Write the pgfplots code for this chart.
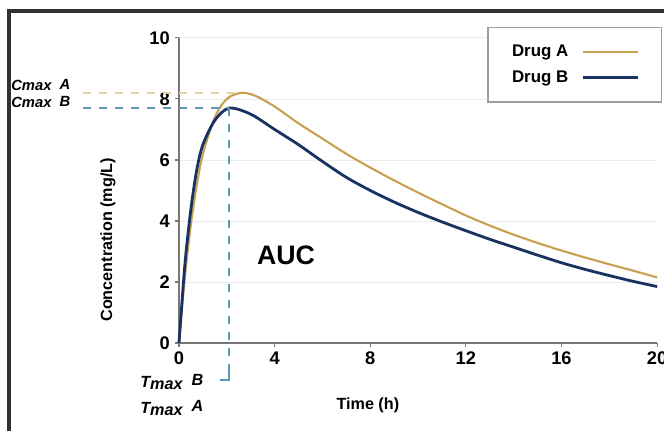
\documentclass[border=0pt]{standalone}
\usepackage{pgfplots}
\pgfplotsset{compat=1.18}
\usepackage{fontspec}
\setmainfont{Liberation Sans}
\definecolor{goldA}{RGB}{201,160,82}
\definecolor{navyB}{RGB}{24,50,98}
\definecolor{dashB}{RGB}{95,152,182}
\definecolor{dashA}{RGB}{226,208,170}
\definecolor{axgray}{RGB}{120,120,120}
\definecolor{framec}{RGB}{50,50,50}
\begin{document}
\begin{tikzpicture}
\begin{axis}[
  at={(0,0)}, anchor=south west,
  scale only axis, width=11.95cm, height=7.625cm,
  xmin=0, xmax=20, ymin=0, ymax=10,
  axis x line*=bottom, axis y line*=left,
  xtick={0,4,...,20}, ytick={0,2,...,10},
  ymajorgrids, grid style={black!8, line width=0.6pt},
  axis line style={axgray, line width=1.1pt},
  tick style={axgray, line width=0.8pt}, major tick length=3pt,
  tick align=outside,
  ticklabel style={font=\fontsize{13}{15}\selectfont\bfseries},
  /pgf/number format/assume math mode=true,
  xlabel={Time (h)}, ylabel={Concentration (mg/L)},
  xlabel style={at={(axis description cs:0.395,-0.203)}, anchor=center, font=\fontsize{11.5}{13}\selectfont\bfseries},
  ylabel style={at={(axis description cs:-0.1485,0.338)}, anchor=center, font=\fontsize{11.5}{13}\selectfont\bfseries},
  clip=false,
  legend plot pos=right,
  legend cell align=left,
  legend image code/.code={\draw[#1] (0cm,0cm) -- (1.375cm,0cm);},
  legend style={at={(1.0105,1.036)}, anchor=north east, draw={rgb,255:red,165;green,155;blue,155}, line width=1pt,
    font=\fontsize{12}{14}\selectfont\bfseries, inner xsep=0.55cm, inner ysep=0.38cm, row sep=0.2cm,
    nodes={inner sep=1.5pt}},
]
\addplot[goldA, line width=1.5pt, smooth] coordinates {
(0,0) (0.25,2.2) (0.5,3.9) (0.75,5.2) (1,6.2) (1.5,7.4) (2,8.0) (2.6,8.2) (3.2,8.1) (4,7.75) (5,7.2) (6,6.7) (7,6.2) (8,5.75) (9,5.33) (10,4.93) (11,4.55) (12,4.18) (13,3.85) (14,3.55) (15,3.28) (16,3.03) (17,2.8) (18,2.58) (19,2.37) (20,2.15)};
\addlegendentry{Drug A\rule{0.28cm}{0pt}}
\addplot[navyB, line width=2pt, smooth] coordinates {
(0,0) (0.25,2.6) (0.5,4.4) (0.75,5.7) (1,6.5) (1.5,7.3) (2.1,7.7) (3,7.5) (4,7.0) (5,6.5) (6,5.95) (7,5.43) (8,5.0) (9,4.62) (10,4.28) (11,3.97) (12,3.68) (13,3.4) (14,3.14) (15,2.88) (16,2.63) (17,2.41) (18,2.21) (19,2.02) (20,1.85)};
\addlegendentry{Drug B\rule{0.28cm}{0pt}}
\draw[dashA, line width=1.2pt, dash pattern=on 0.2cm off 0.2cm] (axis cs:-4.0,8.2) -- (axis cs:2.5,8.2);
\draw[dashB, line width=1.2pt, dash pattern=on 0.2cm off 0.2cm] (axis cs:-4.0,7.7) -- (axis cs:2.1,7.7);
\draw[dashB, line width=1.4pt, dash pattern=on 0.2cm off 0.2cm] (axis cs:2.1,7.7) -- (axis cs:2.1,-1.05);
\draw[dashB, line width=1.2pt] (axis cs:2.1,-0.95) -- (axis cs:2.1,-1.21) -- (axis cs:1.72,-1.21);
\end{axis}
\begin{scope}[x=0.025cm,y=0.025cm]
% frame
\draw[framec, line width=2.2pt] (9-179,343-431) -- (9-179,343-11) -- (664-179,343-11);
% AUC
\node[font=\fontsize{19}{22}\selectfont\bfseries] at (286-179,343-255) {AUC};
% Cmax labels
\node[anchor=base west, inner sep=0, font=\fontsize{10.5}{12}\selectfont\bfseries\itshape] at (11-179,343-91) {Cmax\ \ \raisebox{1pt}{A}};
\node[anchor=base west, inner sep=0, font=\fontsize{10.5}{12}\selectfont\bfseries\itshape] at (11-179,343-108) {Cmax\ \ \raisebox{1pt}{B}};
% Tmax labels
\node[anchor=base west, inner sep=0, font=\fontsize{11.5}{13}\selectfont\bfseries\itshape] at (140-179,343-388) {T\raisebox{-1pt}{max}\ \ \raisebox{1.5pt}{B}};
\node[anchor=base west, inner sep=0, font=\fontsize{11.5}{13}\selectfont\bfseries\itshape] at (140-179,343-414) {T\raisebox{-1pt}{max}\ \ \raisebox{1.5pt}{A}};
\pgfresetboundingbox
\path[use as bounding box] (-179,-88) rectangle (485,343);
\end{scope}
\end{tikzpicture}
\end{document}
